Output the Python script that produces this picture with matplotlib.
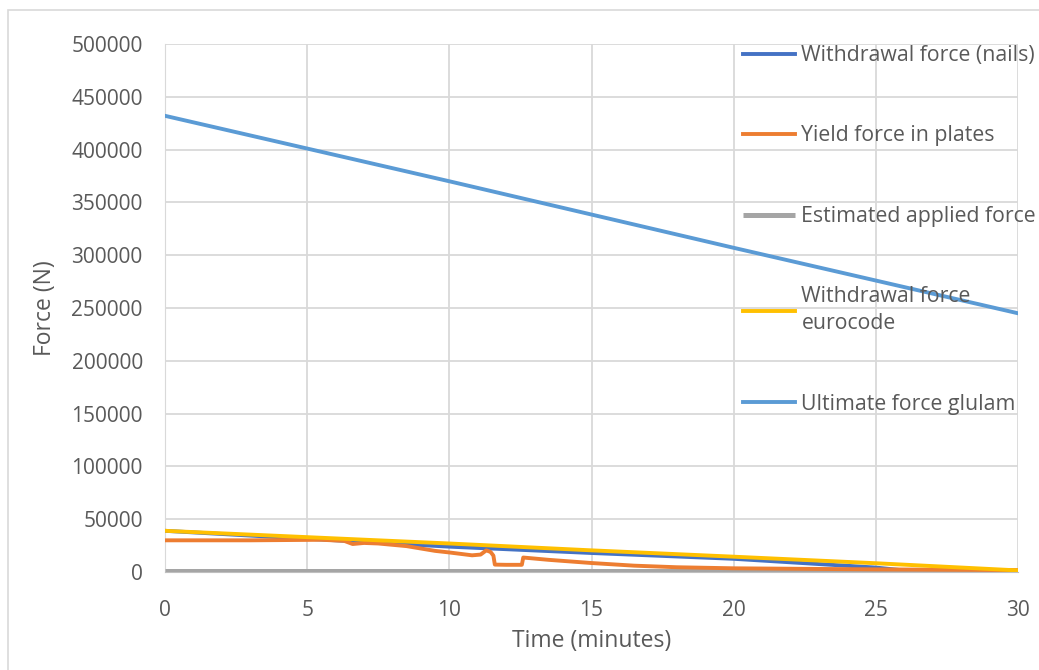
import matplotlib.pyplot as plt
from matplotlib.patches import Rectangle

# time axis (minutes) and forces (N)
t_glulam = [0, 5, 10, 15, 20, 25, 30]
f_glulam = [432000, 401000, 370000, 338500, 307000, 276000, 245000]

t_nails = [0, 5, 10, 15, 20, 25, 27]
f_nails = [39000, 31500, 24000, 18000, 12500, 4200, -1300]

t_euro = [0, 5, 10, 15, 20, 25, 30]
f_euro = [39000, 33000, 27000, 20500, 14500, 8300, 1500]

t_applied = [0, 30]
f_applied = [1000, 1000]

t_plates = [0, 3, 5.5, 6.3, 6.6, 7.0, 7.5, 8.5, 9.5, 10.0, 10.8, 11.1, 11.3, 11.45,
            11.55, 11.6, 12.0, 12.55, 12.6, 13.5, 15.0, 16.5, 18.0, 20.0, 25.0, 30.0]
f_plates = [30000, 30000, 30500, 29500, 26500, 27500, 27000, 24500, 20000, 18500,
            15800, 16500, 20500, 19000, 15500, 7000, 6800, 6800, 13700, 11500,
            8500, 6000, 4500, 3500, 2500, 1800]

grey_txt = '#595959'
plt.rcParams['font.family'] = ['Open Sans', 'DejaVu Sans']

fig = plt.figure(figsize=(10.39, 6.70), dpi=100)
ax = fig.add_axes([165 / 1039, 1 - 572 / 670, (1018 - 165) / 1039, (572 - 44) / 670])

# outer chart border
fig.patches.append(Rectangle((8 / 1039, -0.02), 1.1, 1 - 10 / 670 + 0.02,
                             transform=fig.transFigure, fill=False,
                             edgecolor='#d9d9d9', linewidth=1.2))

lw = 2.8
ax.plot(t_nails, f_nails, color='#4472C4', lw=lw, label='Withdrawal force (nails)', zorder=3)
ax.plot(t_plates, f_plates, color='#ED7D31', lw=lw, label='Yield force in plates', zorder=4)
ax.plot(t_applied, f_applied, color='#A5A5A5', lw=lw + 0.8, label='Estimated applied force',
        zorder=3, solid_capstyle='butt')
ax.plot(t_euro, f_euro, color='#FFC000', lw=lw, label='Withdrawal force\neurocode', zorder=5)
ax.plot(t_glulam, f_glulam, color='#5B9BD5', lw=lw, label='Ultimate force glulam', zorder=3)

ax.set_xlim(0, 30)
ax.set_ylim(0, 500000)
ax.set_xticks(range(0, 31, 5))
ax.set_yticks(range(0, 500001, 50000))
ax.grid(True, color='#d9d9d9', linewidth=1.3)
ax.set_axisbelow(True)
for s in ['top', 'right']:
    ax.spines[s].set_visible(False)
ax.spines['left'].set_color('#d9d9d9')
ax.spines['bottom'].set_color('#bfbfbf')
ax.tick_params(length=0, colors=grey_txt, labelsize=15, pad=16)
ax.tick_params(axis='x', pad=20)

ax.set_xlabel('Time (minutes)', fontsize=16.5, color=grey_txt, labelpad=6)
ax.set_ylabel('Force (N)', fontsize=16.5, color=grey_txt, labelpad=10)

leg = ax.legend(loc='upper left', bbox_to_anchor=(743 / 1039, 1 - 45 / 670),
                bbox_transform=fig.transFigure, frameon=False, fontsize=15.3,
                handlelength=2.45, handletextpad=0.3, labelspacing=2.8,
                borderaxespad=0, borderpad=0)
for txt in leg.get_texts():
    txt.set_color(grey_txt)
    txt.set_linespacing(1.35)

fig.savefig('out.png', dpi=100)
